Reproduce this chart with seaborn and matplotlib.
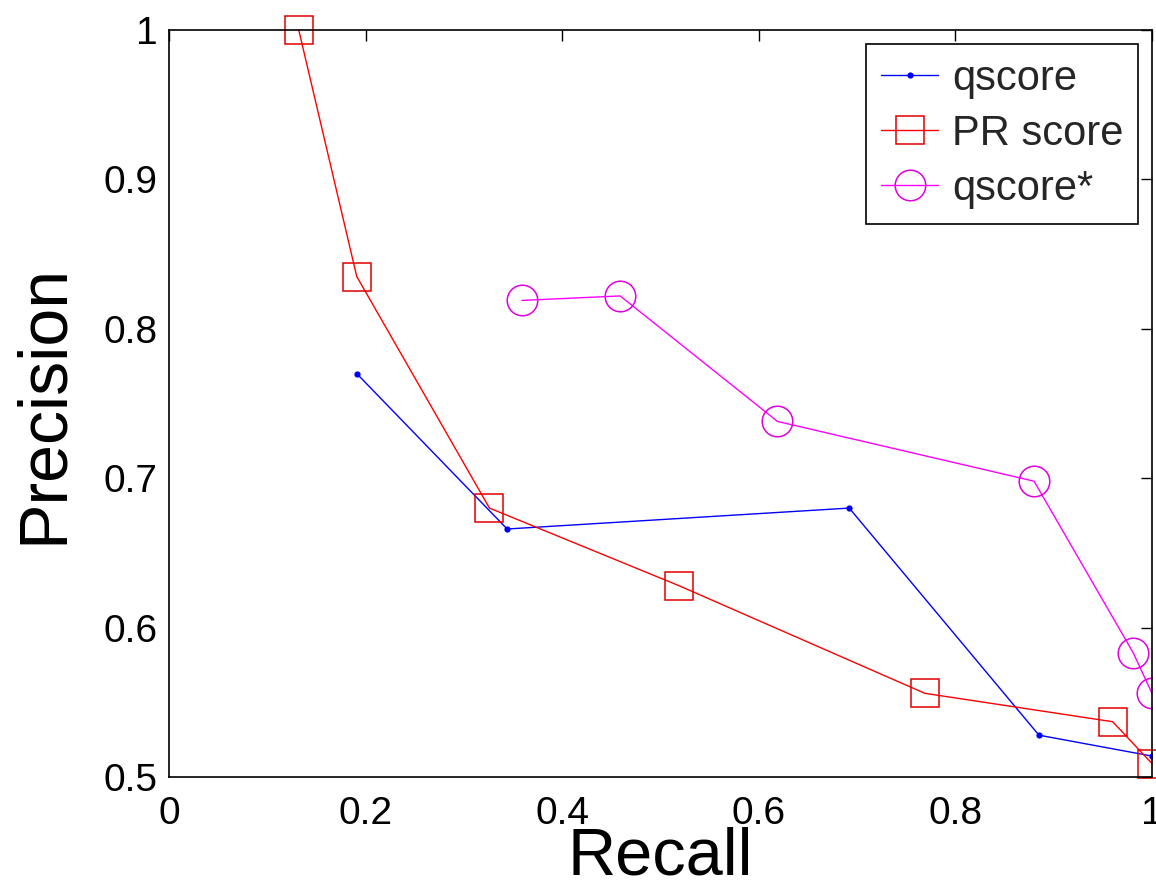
import matplotlib
matplotlib.use("Agg")
import matplotlib.pyplot as plt
import seaborn as sns
import pandas as pd

# ---- data ----
qscore_recall = [0.191, 0.344, 0.692, 0.885, 1.0]
qscore_precision = [0.770, 0.666, 0.680, 0.528, 0.514]

pr_recall = [0.132, 0.191, 0.326, 0.519, 0.769, 0.960, 1.0]
pr_precision = [1.0, 0.835, 0.680, 0.628, 0.556, 0.537, 0.509]

qstar_recall = [0.359, 0.459, 0.619, 0.880, 0.981, 1.0]
qstar_precision = [0.819, 0.822, 0.738, 0.698, 0.583, 0.556]

x_ticks = [0, 0.2, 0.4, 0.6, 0.8, 1.0]
x_tick_labels = ["0", "0.2", "0.4", "0.6", "0.8", "1"]
y_ticks = [0.5, 0.6, 0.7, 0.8, 0.9, 1.0]
y_tick_labels = ["0.5", "0.6", "0.7", "0.8", "0.9", "1"]

sns.set_style("white")
plt.rcParams["font.family"] = ["Liberation Sans", "DejaVu Sans"]

fig = plt.figure(figsize=(11.56, 8.94), dpi=100)
ax = fig.add_axes([169 / 1156, 1 - 777 / 894, (1152 - 169) / 1156, (777 - 30) / 894])

df_q = pd.DataFrame({"Recall": qscore_recall, "Precision": qscore_precision})
df_pr = pd.DataFrame({"Recall": pr_recall, "Precision": pr_precision})
df_qs = pd.DataFrame({"Recall": qstar_recall, "Precision": qstar_precision})

sns.lineplot(data=df_q, x="Recall", y="Precision", ax=ax, color="#0000ff",
             marker="o", markersize=4.5, markeredgewidth=0, linewidth=1.0,
             label="qscore", sort=False)
sns.lineplot(data=df_pr, x="Recall", y="Precision", ax=ax, color="#ff0000",
             marker="s", markersize=20, markerfacecolor="none",
             markeredgecolor="#e00000", markeredgewidth=1.1, linewidth=1.0,
             label="PR score", sort=False, clip_on=False)
sns.lineplot(data=df_qs, x="Recall", y="Precision", ax=ax, color="#ff00ff",
             marker="o", markersize=22, markerfacecolor="none",
             markeredgecolor="#e000e0", markeredgewidth=1.1, linewidth=1.0,
             label="qscore*", sort=False)

ax.set_xlim(0, 1)
ax.set_ylim(0.5, 1)
ax.set_xticks(x_ticks)
ax.set_xticklabels(x_tick_labels)
ax.set_yticks(y_ticks)
ax.set_yticklabels(y_tick_labels)

ax.tick_params(axis="both", direction="in", length=8, width=1.0, color="black",
               top=True, right=True, labelsize=28, labelcolor="black")
ax.tick_params(axis="x", pad=14)
ax.tick_params(axis="y", pad=8)

for s in ax.spines.values():
    s.set_visible(True)
    s.set_color("black")
    s.set_linewidth(1.2)

ax.set_xlabel("Recall", fontsize=48, labelpad=-4, color="black")
ax.set_ylabel("Precision", fontsize=49, labelpad=20, color="black")

leg = ax.legend(loc="upper right", fontsize=30, frameon=True, fancybox=False,
                framealpha=1, edgecolor="black", handlelength=1.35,
                handletextpad=0.34, borderpad=0.36, labelspacing=0.36,
                borderaxespad=0.33)
leg.get_frame().set_linewidth(1.2)
leg.set_zorder(5)

fig.savefig("out.png", dpi=100)
